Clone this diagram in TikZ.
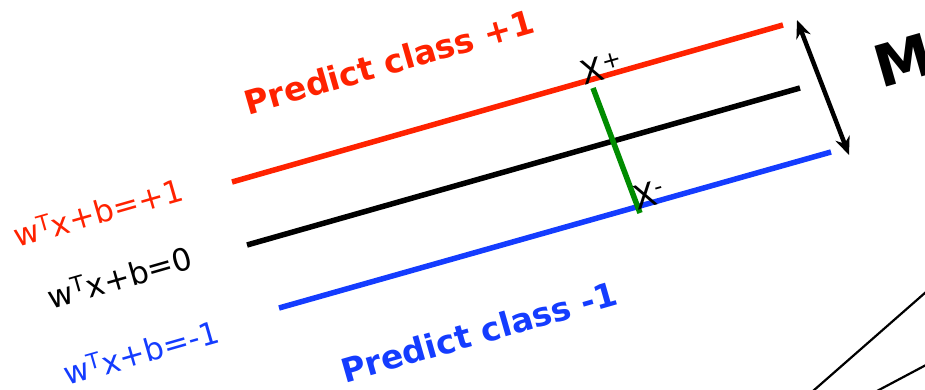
\documentclass[tikz,border=0pt]{standalone}
\usepackage{fontspec}
\setmainfont{DejaVu Sans}
\usepackage{xcolor}
\usepackage{tikz}
\usetikzlibrary{arrows.meta}
\definecolor{posred}{RGB}{255,34,0}
\definecolor{negblue}{RGB}{20,60,255}
\definecolor{gapgreen}{RGB}{0,140,0}
\tikzset{
  plane/.style={line width=5.5pt},
  eqlabel/.style={rotate=16, inner sep=0pt, font=\fontsize{31}{34}\selectfont},
  classlabel/.style={rotate=16, inner sep=0pt, font=\bfseries\fontsize{33}{36}\selectfont},
  pointlabel/.style={rotate=16, inner sep=0pt, font=\fontsize{33}{36}\selectfont},
  marginarrow/.style={{Stealth[length=18pt,width=15pt]}-{Stealth[length=18pt,width=15pt]}, line width=4.5pt},
}

\begin{document}
\begin{tikzpicture}[x=1pt, y=-1pt]
  \useasboundingbox (0,0) rectangle (925,390);
  \clip (0,0) rectangle (925,390);
  % the three planes
  \coordinate (PL) at (232,182);  \coordinate (PR) at (783,25);
  \coordinate (ZL) at (247,245);  \coordinate (ZR) at (800,88);
  \coordinate (NL) at (279,308);  \coordinate (NR) at (831,152);
  \draw[plane, posred]  (PL) -- (PR);
  \draw[plane, black]   (ZL) -- (ZR);
  \draw[plane, negblue] (NL) -- (NR);
  % margin
  \coordinate (xp) at (593,88);
  \coordinate (xm) at (640,213);
  \draw[line width=5.5pt, gapgreen] (xp) -- (xm);
  \node[pointlabel] (Xp) at (602,68)  {X\textsuperscript{+}};
  \node[pointlabel] (Xm) at (649,195) {X\textsuperscript{-}};
  \coordinate (mtop) at (797,20);
  \coordinate (mbot) at (849,155);
  \draw[marginarrow] (mtop) -- (mbot);
  \node[rotate=16, inner sep=0pt, font=\bfseries\fontsize{58}{62}\selectfont] (M) at (903,60) {M};
  % labels
  \node[classlabel, posred]  (pos) at (389,62)  {Predict class +1};
  \node[classlabel, negblue] (neg) at (479,332) {Predict class -1};
  \node[eqlabel, posred]  (eqp) at (98,212)  {w\textsuperscript{T}x+b=+1};
  \node[eqlabel, black]   (eqz) at (120,277) {w\textsuperscript{T}x+b=0};
  \node[eqlabel, negblue] (eqn) at (141,352) {w\textsuperscript{T}x+b=-1};
  % corner of the next figure
  \coordinate (c1) at (813,391); \coordinate (c2) at (926,292);
  \coordinate (c3) at (877,391); \coordinate (c4) at (926,365);
  \draw[line width=2.2pt] (c1) -- (c2);
  \draw[line width=2.2pt] (c3) -- (c4);
\end{tikzpicture}
\end{document}
